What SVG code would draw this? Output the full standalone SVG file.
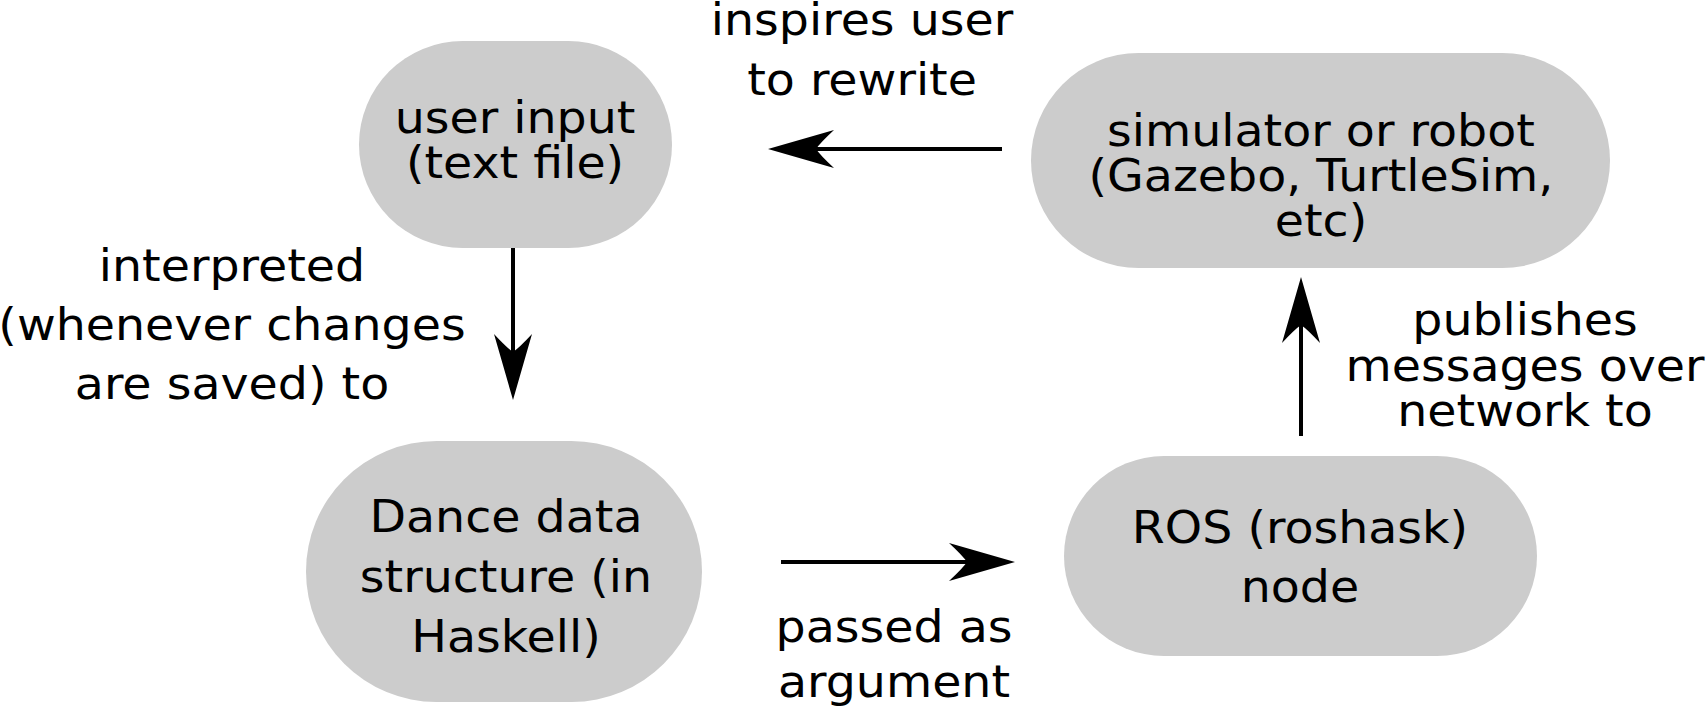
<svg xmlns="http://www.w3.org/2000/svg" xmlns:xlink="http://www.w3.org/1999/xlink" width="1707" height="709" viewBox="0 0 1707 709">
<style>
.node{fill:#cccccc;}
text{font-family:"DejaVu Sans","Liberation Sans",sans-serif;font-size:45px;fill:#000;text-anchor:middle;}
.conn{stroke:#000;stroke-width:4;fill:none;}
.head{fill:#000;}
</style>
<defs>
<path id="ah" class="head" d="M0,0 L-66,-19 Q-52,-6 -48,0 Q-52,6 -66,19 Z"/>
</defs>
<rect width="1707" height="709" fill="#ffffff"/>
<g id="connectors">
<line class="conn" x1="1002" y1="149" x2="790" y2="149"/>
<use xlink:href="#ah" href="#ah" transform="translate(768,149) rotate(180)"/>
<line class="conn" x1="513" y1="244" x2="513" y2="380"/>
<use xlink:href="#ah" href="#ah" transform="translate(513,400) rotate(90)"/>
<line class="conn" x1="781" y1="562" x2="995" y2="562"/>
<use xlink:href="#ah" href="#ah" transform="translate(1015,562)"/>
<line class="conn" x1="1301" y1="436" x2="1301" y2="300"/>
<use xlink:href="#ah" href="#ah" transform="translate(1301,277) rotate(-90)"/>
</g>
<g id="node-user-input">
<rect class="node" x="359" y="41" width="313" height="207" rx="103.5" ry="103.5"/>
<g transform="scale(1.055,1)">
<text x="488.2" y="133">user input</text>
<text x="488.2" y="178">(text file)</text>
</g>
</g>
<g id="node-simulator">
<rect class="node" x="1031" y="53" width="579" height="215" rx="107.5" ry="107.5"/>
<g transform="scale(1.055,1)">
<text x="1252.1" y="146">simulator or robot</text>
<text x="1252.1" y="191">(Gazebo, TurtleSim,</text>
<text x="1252.1" y="236">etc)</text>
</g>
</g>
<g id="node-dance">
<rect class="node" x="306" y="441" width="396" height="261" rx="130.5" ry="130.5"/>
<g transform="scale(1.055,1)">
<text x="479.6" y="532">Dance data</text>
<text x="479.6" y="592">structure (in</text>
<text x="479.6" y="652">Haskell)</text>
</g>
</g>
<g id="node-ros">
<rect class="node" x="1064" y="456" width="473" height="200" rx="100" ry="100"/>
<g transform="scale(1.055,1)">
<text x="1232.2" y="543">ROS (roshask)</text>
<text x="1232.2" y="602">node</text>
</g>
</g>
<g id="labels" transform="scale(1.055,1)">
<text x="817.1" y="35">inspires user</text>
<text x="817.1" y="95">to rewrite</text>
<text x="219.9" y="281">interpreted</text>
<text x="219.9" y="340">(whenever changes</text>
<text x="219.9" y="399">are saved) to</text>
<text x="1445.5" y="335">publishes</text>
<text x="1445.5" y="381">messages over</text>
<text x="1445.5" y="426">network to</text>
<text x="847.4" y="642">passed as</text>
<text x="847.4" y="697">argument</text>
</g>
</svg>
